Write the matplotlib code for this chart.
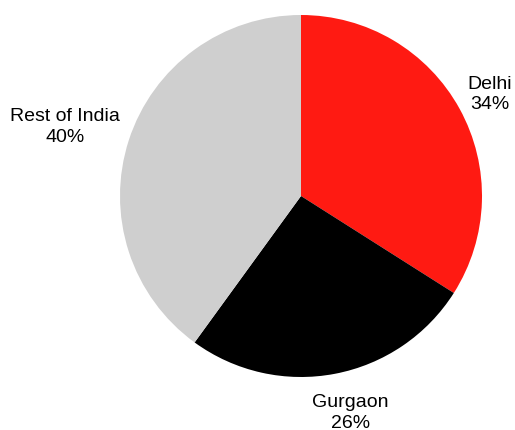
import numpy as np
import matplotlib.pyplot as plt

plt.rcParams['font.family'] = ['Liberation Sans', 'DejaVu Sans']

# Share of sales by region
regions = ['Delhi', 'Gurgaon', 'Rest of India']
shares = [34, 26, 40]
colors = ['#ff1a12', '#000000', '#cfcfcf']

# label placement: distance from centre (in radii) and angular nudge (deg)
label_dist = [1.187, 1.224, 1.36]
label_nudge = [-0.4, 2.0, 1.5]

fig = plt.figure(figsize=(5.15, 4.31), dpi=100)
ax = fig.add_axes([0, 0, 1, 1])

wedges, _ = ax.pie(shares, colors=colors, startangle=90, counterclock=False,
                   radius=1, wedgeprops=dict(linewidth=0))

for w, name, val, d, nudge in zip(wedges, regions, shares, label_dist, label_nudge):
    ang = np.deg2rad((w.theta1 + w.theta2) / 2 + nudge)
    ax.text(d * np.cos(ang), d * np.sin(ang), f'{name}\n{val}%',
            ha='center', va='center', fontsize=14, linespacing=1.25)

ax.set_xlim(-301 / 181, (515 - 301) / 181)
ax.set_ylim(-(431 - 197) / 181, 197 / 181)
ax.set_aspect('equal')
ax.axis('off')

fig.savefig('out.png', dpi=100)
